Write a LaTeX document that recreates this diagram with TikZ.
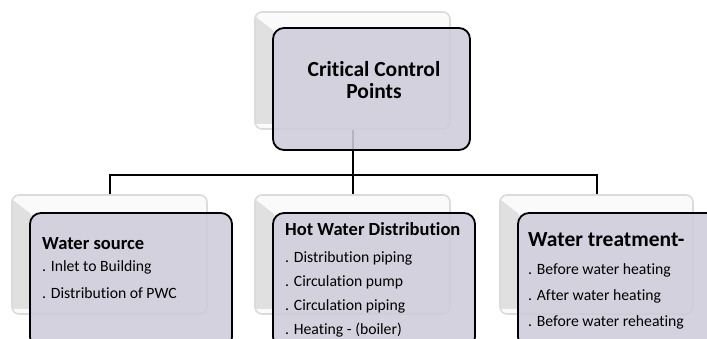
\documentclass[tikz,border=0pt]{standalone}
\usepackage{fontspec}
\setmainfont{Carlito}[Ligatures={NoCommon}]
\begin{document}
\begin{tikzpicture}[x=1pt,y=-1pt,
  backbox/.style={draw=black!14,line width=1.6pt,fill=black!2,rounded corners=7pt,inner sep=0pt},
  bevel/.style={fill=black!12,draw=none},
  frontbox/.style={draw=black,line width=1.8pt,fill={rgb,255:red,205;green,204;blue,218},fill opacity=0.88,rounded corners=11pt,inner sep=0pt},
  conn/.style={draw=black,line width=2pt},
  head/.style={font=\bfseries\fontsize{18.5}{21}\selectfont,anchor=base west,inner sep=0pt},
  item/.style={font=\fontsize{15.7}{18}\selectfont,anchor=base west,inner sep=0pt}]
\useasboundingbox (0,0) rectangle (707,338);
\begin{scope}
\clip (0,0) rectangle (707,338);
% back boxes
\node[backbox,minimum width=195pt,minimum height=117pt] (topB) at (352.5,70.5) {};
\node[backbox,minimum width=195pt,minimum height=119pt] (leftB) at (109.5,254.5) {};
\node[backbox,minimum width=195pt,minimum height=119pt] (midB) at (352.5,254.5) {};
\node[backbox,minimum width=193pt,minimum height=119pt] (rightB) at (596.5,254.5) {};
% shaded left bevels of the back boxes
\foreach \b in {topB,leftB,midB,rightB}{
  \fill[bevel] ([shift={(2,6)}]\b.north west) -- ++(18,14) -- ([shift={(20,-6)}]\b.south west) -- ([shift={(2,-6)}]\b.south west) -- cycle;
}
% connectors
\coordinate (bus) at (0,175);
\draw[conn] (topB.south) -- (topB.south |- bus);
\draw[conn] (leftB.north) -- (leftB.north |- bus) -- (rightB.north |- bus) -- (rightB.north);
\draw[conn] (midB.north |- bus) -- (midB.north);
% front boxes
\node[frontbox,minimum width=197pt,minimum height=122pt] (topF) at (371.5,89) {};
\node[frontbox,minimum width=202pt,minimum height=135pt] (leftF) at (131,280.5) {};
\node[frontbox,minimum width=202pt,minimum height=135pt] (midF) at (374,280.5) {};
\node[frontbox,minimum width=207pt,minimum height=135pt] (rightF) at (621.5,280.5) {};
\end{scope}
% texts
\node[font=\bfseries\fontsize{21.5}{22}\selectfont,align=center,inner sep=0pt,anchor=base] (topT) at (374,98) {Critical Control\\Points};
\node[head] (leftT) at (42,249) {Water source};
\node[item] (left1) at (42,271) {. Inlet to Building};
\node[item] (left2) at (42,298) {. Distribution of PWC};
\node[head] (midT) at (285,235) {Hot Water Distribution};
\node[item] (mid1) at (285,262) {. Distribution piping};
\node[item] (mid2) at (285,286) {. Circulation pump};
\node[item] (mid3) at (285,310) {. Circulation piping};
\node[item] (mid4) at (285,334) {. Heating - (boiler)};
\node[head,font=\bfseries\fontsize{21.5}{24}\selectfont] (rightT) at (528,246) {Water treatment-};
\node[item] (right1) at (528,274) {. Before water heating};
\node[item] (right2) at (528,300) {. After water heating};
\node[item] (right3) at (528,326) {. Before water reheating};
\end{tikzpicture}
\end{document}
